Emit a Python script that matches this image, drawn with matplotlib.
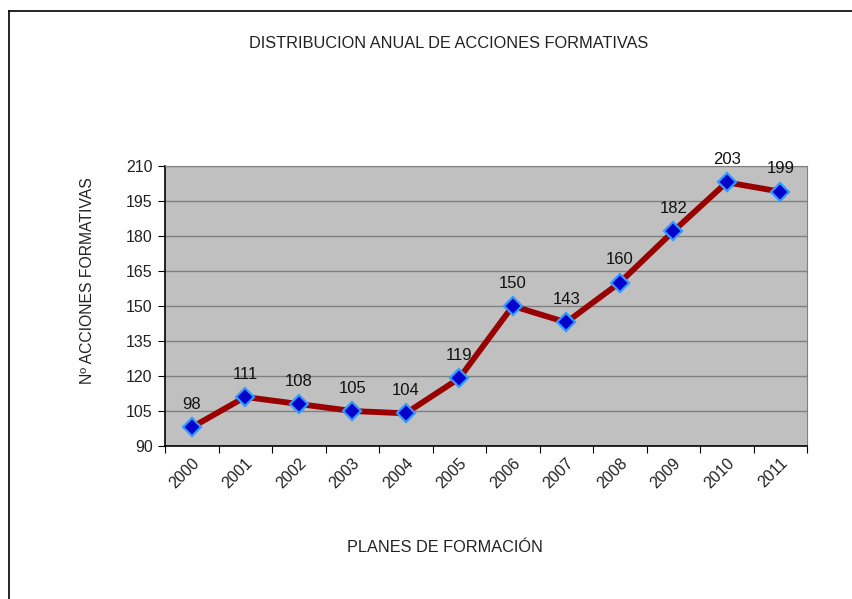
import matplotlib.pyplot as plt
from matplotlib.lines import Line2D

plt.rcParams['font.family'] = ['Liberation Sans', 'DejaVu Sans']

years = ["2000", "2001", "2002", "2003", "2004", "2005",
         "2006", "2007", "2008", "2009", "2010", "2011"]
acciones = [98, 111, 108, 105, 104, 119, 150, 143, 160, 182, 203, 199]
y_ticks = [90, 105, 120, 135, 150, 165, 180, 195, 210]

fig = plt.figure(figsize=(8.52, 5.99), dpi=100)
ax = fig.add_axes([165 / 852, 153 / 599, 642 / 852, 280 / 599])
ax.set_facecolor("#c0c0c0")

x = list(range(len(years)))
ax.plot(x, acciones, color="#990000", linewidth=4.2, zorder=3,
        marker="D", markersize=9, markerfacecolor="#0000cc",
        markeredgecolor="#3399ff", markeredgewidth=1.6)

for xi, v in zip(x, acciones):
    ax.annotate(str(v), (xi, v), xytext=(0, 11), textcoords="offset points",
                ha="center", va="bottom", fontsize=12, color="#111111", zorder=4)

ax.set_xlim(-0.5, len(years) - 0.5)
ax.set_ylim(90, 210)
ax.set_yticks(y_ticks)
ax.set_yticklabels([str(t) for t in y_ticks], fontsize=11.5, color="#222222")
ax.set_xticks([i - 0.5 for i in range(len(years) + 1)])
ax.set_xticklabels([])
ax.set_xticks(x, minor=True)
ax.set_xticklabels(years, minor=True, rotation=45, ha="right", va="top",
                   rotation_mode="anchor", fontsize=11.5, color="#222222")
ax.tick_params(axis="x", which="minor", length=0, pad=7)
ax.tick_params(axis="x", which="major", length=5, direction="out", color="black")
ax.tick_params(axis="y", length=5, direction="out", pad=4)

ax.yaxis.grid(True, color="#808080", linewidth=1)
ax.set_axisbelow(True)
ax.spines["left"].set_color("black")
ax.spines["bottom"].set_color("black")
ax.spines["left"].set_linewidth(1.2)
ax.spines["bottom"].set_linewidth(1.2)
ax.spines["top"].set_color("#808080")
ax.spines["right"].set_color("#808080")

fig.text(449 / 852, 1 - 43 / 599, "DISTRIBUCION ANUAL DE ACCIONES FORMATIVAS",
         ha="center", va="center", fontsize=11.8, color="#222222")
fig.text(88 / 852, 1 - 281 / 599, "Nº ACCIONES FORMATIVAS", rotation=90,
         ha="center", va="center", fontsize=11.3, color="#222222")
fig.text(445 / 852, 1 - 548 / 599, "PLANES DE FORMACIÓN",
         ha="center", va="center", fontsize=11.7, color="#222222")

# outer chart border (only left and top visible)
fig.add_artist(Line2D([8.5 / 852, 8.5 / 852], [0, 1 - 10.5 / 599],
                      transform=fig.transFigure, color="black", linewidth=1.2))
fig.add_artist(Line2D([8.5 / 852, 1], [1 - 10.5 / 599, 1 - 10.5 / 599],
                      transform=fig.transFigure, color="black", linewidth=1.2))

fig.savefig("out.png", dpi=100)
